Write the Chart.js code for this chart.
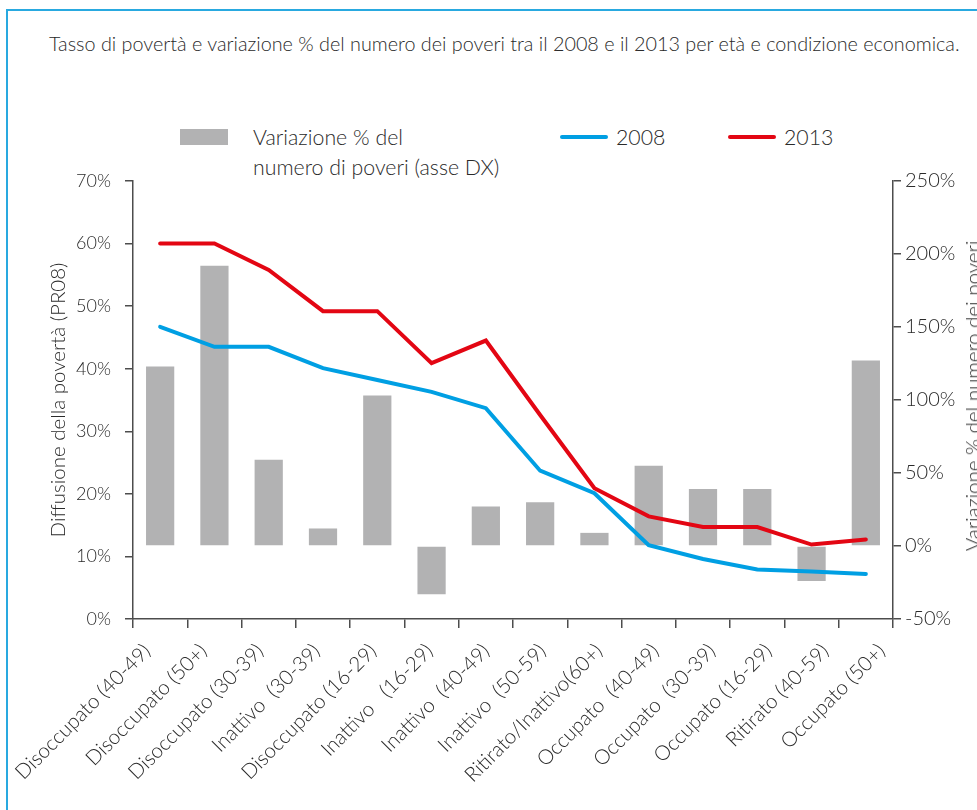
<!DOCTYPE html>
<html>
<head>
<meta charset="utf-8">
<script src="https://cdn.jsdelivr.net/npm/chart.js@4"></script>
<style>
  html, body { margin:0; padding:0; width:977px; height:810px; overflow:hidden; background:#fff; }
  body { position:relative; font-family:'Lato', sans-serif; font-weight:300; color:#2a2a2a; }
  #frame { position:absolute; left:6px; top:9px; width:1200px; height:1200px; border-top:2px solid #29a9e0; border-left:2px solid #29a9e0; }
  #title { position:absolute; left:49px; top:31px; font-size:19.8px; white-space:nowrap; }
  .leg { position:absolute; font-size:21.3px; line-height:30px; white-space:nowrap; }
  #c { position:absolute; left:0; top:0; }
  #rtitle { position:absolute; left:972px; top:396px; font-size:20.5px; white-space:nowrap; transform:translate(-50%,-50%) rotate(-90deg); }
</style>
</head>
<body>
<div id="frame"></div>
<div id="title">Tasso di povertà e variazione % del numero dei poveri tra il 2008 e il 2013 per età e condizione economica.</div>
<div style="position:absolute;left:180px;top:129px;width:48px;height:16px;background:#b2b2b3"></div>
<div class="leg" style="left:253px;top:122px">Variazione % del<br>numero di poveri (asse DX)</div>
<div style="position:absolute;left:560px;top:135px;width:48px;height:4px;border-radius:2px;background:#009fe3"></div>
<div class="leg" style="left:616px;top:122px">2008</div>
<div style="position:absolute;left:728px;top:135px;width:48px;height:4px;border-radius:2px;background:#e30613"></div>
<div class="leg" style="left:784px;top:122px">2013</div>
<canvas id="c" width="977" height="810"></canvas>
<div id="rtitle">Variazione % del numero dei poveri</div>
<script>
const categories = ["Disoccupato (40-49)", "Disoccupato (50+)", "Disoccupato (30-39)", "Inattivo  (30-39)", "Disoccupato (16-29)", "Inattivo   (16-29)", "Inattivo  (40-49)", "Inattivo  (50-59)", "Ritirato/Inattivo(60+)", "Occupato  (40-49)", "Occupato  (30-39)", "Occupato (16-29)", "Ritirato (40-59)", "Occupato (50+)"];
const rate2008 = [46.7, 43.5, 43.5, 40.1, 38.2, 36.3, 33.7, 23.7, 20.1, 11.8, 9.6, 7.9, 7.6, 7.2];
const rate2013 = [60.0, 60.0, 55.8, 49.2, 49.2, 40.9, 44.5, 32.6, 20.9, 16.4, 14.7, 14.7, 11.9, 12.7];
const variazione = [123, 192, 59, 12, 103, -33, 27, 30, 9, 55, 39, 39, -24, 127];
const leftTicks = [0, 10, 20, 30, 40, 50, 60, 70];
const rightTicks = [-50, 0, 50, 100, 150, 200, 250];

const axisColor = '#4d4d4d';
const txt = '#2a2a2a';
const fam = "'Lato', sans-serif";
const LBL_MIN = -0.25, LBL_MAX = 13.2;

new Chart(document.getElementById('c'), {
  type: 'bar',
  data: {
    labels: categories,
    datasets: [
      { type:'line', label:'2013', data: rate2013, borderColor:'#e30613', borderWidth:4, pointRadius:0, tension:0, borderCapStyle:'round', yAxisID:'y', xAxisID:'x', order:0 },
      { type:'line', label:'2008', data: rate2008, borderColor:'#009fe3', borderWidth:4, pointRadius:0, tension:0, borderCapStyle:'round', yAxisID:'y', xAxisID:'x', order:1 },
      { type:'bar', label:'Variazione % del numero di poveri (asse DX)', data: variazione, backgroundColor:'#b2b2b3', yAxisID:'y1', xAxisID:'x', barPercentage:0.52, categoryPercentage:1, order:2 }
    ]
  },
  options: {
    responsive:false, animation:false, devicePixelRatio:1,
    layout:{ padding:{ left:46, top:181, right:0, bottom:0 } },
    plugins:{ legend:{ display:false }, tooltip:{ enabled:false } },
    scales:{
      x:{ type:'category', position:'bottom', offset:true, weight:0,
          grid:{ offset:true, drawOnChartArea:false, drawTicks:true, tickLength:9, color:axisColor, lineWidth:1.5 },
          border:{ display:true, color:axisColor, width:1.5 },
          ticks:{ display:false },
          afterFit: s => { s.height = 9; } },
      xl:{ type:'linear', position:'bottom', weight:1, min:LBL_MIN, max:LBL_MAX, bounds:'data', grace:0, offset:false,
          grid:{ display:false, drawTicks:false, offset:false }, border:{ display:false },
          afterBuildTicks: s => { s.ticks = categories.map((c,i)=>({ value:i })); s.min = LBL_MIN; s.max = LBL_MAX; },
          ticks:{ autoSkip:false, maxRotation:45, minRotation:45, padding:11, color:txt,
                  font:{ family:fam, size:20.5, weight:'300' },
                  callback: v => categories[Math.round(v)] },
          afterFit: s => { s.height = 182; } },
      y:{ position:'left', min:0, max:70,
          afterBuildTicks: s => { s.ticks = leftTicks.map(v=>({ value:v })); },
          ticks:{ padding:14, color:txt, font:{ family:fam, size:18, weight:'300' }, callback: v => v + '%' },
          grid:{ drawOnChartArea:false, drawTicks:true, tickLength:8, color:axisColor, lineWidth:1.5 },
          border:{ display:true, color:axisColor, width:1.5 },
          title:{ display:true, text:'Diffusione della povertà (PR08)', color:txt, font:{ family:fam, size:20.5, weight:'300' }, padding:0 },
          afterFit: s => { s.width = 87; } },
      y1:{ position:'right', min:-50, max:250,
          afterBuildTicks: s => { s.ticks = rightTicks.map(v=>({ value:v })); },
          ticks:{ padding:4, color:txt, font:{ family:fam, size:20, weight:'300' }, callback: v => v + '%' },
          grid:{ drawOnChartArea:false, drawTicks:true, tickLength:8, color:axisColor, lineWidth:1.5 },
          border:{ display:true, color:axisColor, width:1.5 },
          afterFit: s => { s.width = 84; } }
    }
  }
});
</script>
</body>
</html>
